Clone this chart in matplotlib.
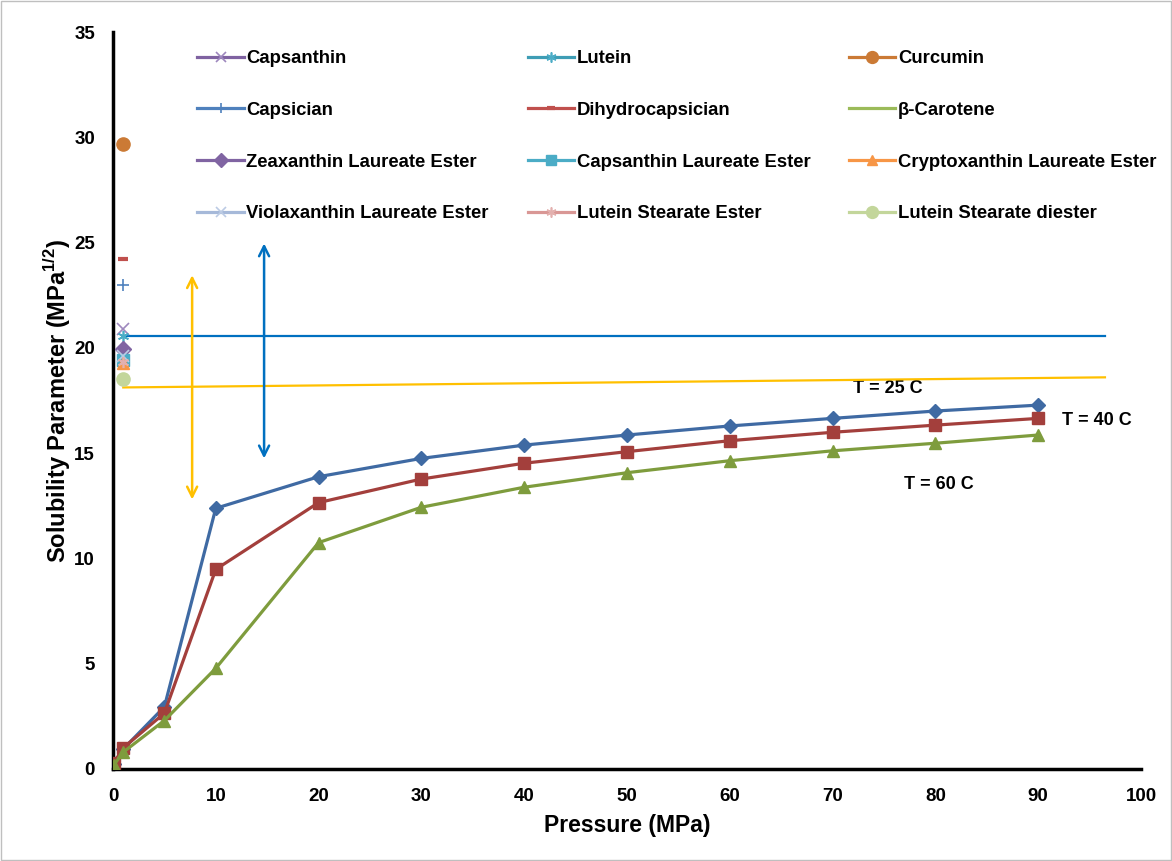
import matplotlib
matplotlib.use("Agg")
import matplotlib.pyplot as plt
from matplotlib.patches import Rectangle

plt.rcParams['font.family'] = ['Liberation Sans', 'DejaVu Sans']
plt.rcParams['font.weight'] = 'bold'
plt.rcParams['mathtext.fontset'] = 'custom'
plt.rcParams['mathtext.rm'] = 'Liberation Sans:bold'
plt.rcParams['mathtext.bf'] = 'Liberation Sans:bold'

# isotherms of CO2 solubility parameter
pressure = [0.1, 1, 5, 10, 20, 30, 40, 50, 60, 70, 80, 90]
t25 = [0.25, 0.95, 2.95, 12.38, 13.88, 14.75, 15.38, 15.86, 16.29, 16.65, 17.0, 17.28]
t40 = [0.3, 1.0, 2.65, 9.48, 12.65, 13.77, 14.52, 15.07, 15.59, 15.99, 16.33, 16.65]
t60 = [0.2, 0.8, 2.3, 4.78, 10.75, 12.43, 13.38, 14.07, 14.64, 15.11, 15.47, 15.86]

# solute solubility parameters (plotted at 1 MPa)
solutes = ['Capsanthin', 'Lutein', 'Curcumin',
           'Capsician', 'Dihydrocapsician', 'β-Carotene',
           'Zeaxanthin Laureate Ester', 'Capsanthin Laureate Ester', 'Cryptoxanthin Laureate Ester',
           'Violaxanthin Laureate Ester', 'Lutein Stearate Ester', 'Lutein Stearate diester']
solute_delta = [20.9, 20.55, 29.7,
                23.0, 24.2, None,
                19.95, 19.4, 19.3,
                19.6, 19.35, 18.5]
solute_p = 1

# reference lines and ranges
blue_line_x = [1, 96.5]
blue_line_y = [20.57, 20.57]
yellow_line_x = [1, 96.5]
yellow_line_y = [18.12, 18.6]
yellow_arrow = (7.7, 12.8, 23.45)
blue_arrow = (14.7, 14.75, 24.96)

styles = {
    'Capsanthin': ('#7F62A1', 'x', '#9E88BE'),
    'Lutein': ('#3E9DB5', (6, 2, 0), '#4BACC6'),
    'Curcumin': ('#CB7A35', 'o', '#CB7A35'),
    'Capsician': ('#4F81BD', '+', '#4F81BD'),
    'Dihydrocapsician': ('#C0504D', '_', '#C0504D'),
    'β-Carotene': ('#9BBB59', None, '#9BBB59'),
    'Zeaxanthin Laureate Ester': ('#8064A2', 'D', '#8064A2'),
    'Capsanthin Laureate Ester': ('#4BACC6', 's', '#4BACC6'),
    'Cryptoxanthin Laureate Ester': ('#F79646', '^', '#F79646'),
    'Violaxanthin Laureate Ester': ('#A6B9D9', 'x', '#BCCBE4'),
    'Lutein Stearate Ester': ('#D99795', (6, 2, 0), '#E3B0AE'),
    'Lutein Stearate diester': ('#C3D69B', 'o', '#C3D69B'),
}

fig = plt.figure(figsize=(11.72, 8.61), dpi=100)
ax = fig.add_axes([0.0964, 0.1069, 0.8771, 0.8559])

ax.plot(blue_line_x, blue_line_y, color='#0070C0', lw=1.6, zorder=2)
ax.plot(yellow_line_x, yellow_line_y, color='#FFC000', lw=1.6, zorder=2)

ax.plot(pressure, t25, color='#3F6AA3', lw=2.3, marker='D', ms=7.5, zorder=4)
ax.plot(pressure, t40, color='#A33F3C', lw=2.3, marker='s', ms=8, zorder=4)
ax.plot(pressure, t60, color='#7E9C3D', lw=2.3, marker='^', ms=8.5, zorder=4)

handles = {}
for name, d in zip(solutes, solute_delta):
    c, m, mc = styles[name]
    ms = 9.5 if m == 'o' else 8
    mew = 1.2 if m in ('x', '+', (6, 2, 0)) else 1
    if m == '_':
        mew = 3
        ms = 7
    xs = [] if d is None else [solute_p]
    ys = [] if d is None else [d]
    h, = ax.plot(xs, ys, color=c, lw=2.3, marker=m, ms=ms, mfc=mc, mec=mc,
                 mew=mew, linestyle='none', zorder=5)
    lh, = ax.plot([], [], color=c, lw=2.3, marker=m, ms=ms * 0.9, mfc=mc, mec=mc, mew=mew)
    handles[name] = lh

for (x, y0, y1), c in [(yellow_arrow, '#FFC000'), (blue_arrow, '#0070C0')]:
    ax.annotate('', xy=(x, y1), xytext=(x, y0),
                arrowprops=dict(arrowstyle='<->', color=c, lw=1.8, mutation_scale=18,
                                shrinkA=0, shrinkB=0), zorder=3)

ax.text(75.4, 18.05, 'T = 25 C', fontsize=13, fontweight='bold', ha='center', va='center', zorder=1)
ax.text(95.7, 16.56, 'T = 40 C', fontsize=13, fontweight='bold', ha='center', va='center')
ax.text(80.3, 13.52, 'T = 60 C', fontsize=13, fontweight='bold', ha='center', va='center')

# legend filled column by column
order = []
for col in range(3):
    for row in range(4):
        order.append(solutes[row * 3 + col])
leg = ax.legend([handles[n] for n in order], order, ncol=3, loc='upper left',
                bbox_to_anchor=(0.066, 0.998), frameon=False,
                handlelength=2.5, handletextpad=0.15, labelspacing=1.88,
                columnspacing=2.1, prop={'weight': 'bold', 'size': 13.3})

ax.set_xlim(0, 100)
ax.set_ylim(0, 35)
ax.set_xticks(range(0, 101, 10))
ax.set_yticks(range(0, 36, 5))
ax.tick_params(axis='x', length=0, labelsize=13.5, pad=14)
ax.tick_params(axis='y', length=0, labelsize=13.5, pad=13)
for lab in ax.get_xticklabels() + ax.get_yticklabels():
    lab.set_fontweight('bold')
for s in ['top', 'right']:
    ax.spines[s].set_visible(False)
for s in ['left', 'bottom']:
    ax.spines[s].set_linewidth(2.5)

ax.set_xlabel('Pressure (MPa)', fontsize=16.5, fontweight='bold', labelpad=6)
ax.set_ylabel(r'Solubility Parameter (MPa$^{1/2}$)', fontsize=17, fontweight='bold', labelpad=1)

fig.patches.append(Rectangle((0.001, 0.001), 0.998, 0.998, transform=fig.transFigure,
                             fill=False, edgecolor='#BFBFBF', lw=1))

fig.savefig('out.png', dpi=100)
